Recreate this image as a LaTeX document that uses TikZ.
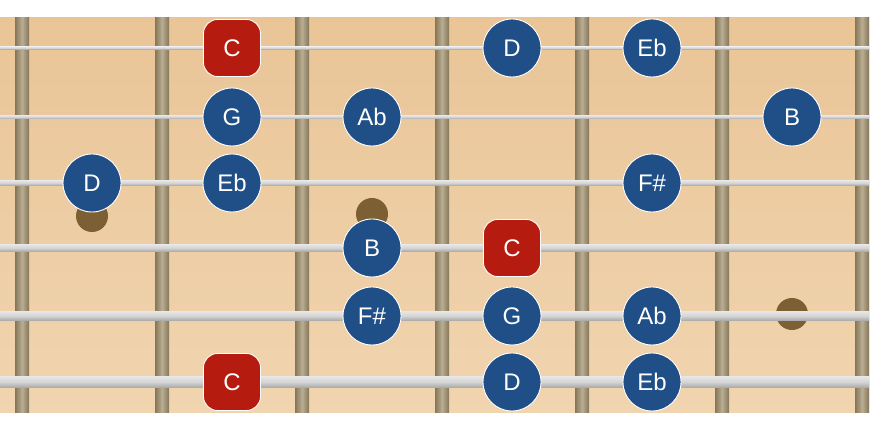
\documentclass[tikz,border=0pt]{standalone}
\usepackage{fontspec}
\setmainfont{Liberation Sans}
\definecolor{woodA}{HTML}{E8C08F}
\definecolor{woodB}{HTML}{F1D5B0}
\definecolor{fretD}{HTML}{857658}
\definecolor{fretL}{HTML}{B9AD92}
\definecolor{strD}{HTML}{A9A9A9}
\definecolor{strL}{HTML}{E6E6E6}
\definecolor{noteblue}{HTML}{1F4F86}
\definecolor{notered}{HTML}{B51B0E}
\definecolor{inlay}{HTML}{7C5F32}
\tikzset{
  note/.style={circle, fill=noteblue, draw=white, line width=0.9pt, minimum size=58pt, inner sep=0pt, text=white, font=\fontsize{24}{24}\selectfont},
  rootnote/.style={rectangle, rounded corners=14pt, fill=notered, draw=white, line width=0.9pt, minimum size=57pt, inner sep=0pt, text=white, font=\fontsize{24}{24}\selectfont},
  inlaydot/.style={circle, fill=inlay, minimum size=32pt, inner sep=0pt},
}
\begin{document}
\begin{tikzpicture}[x=1pt,y=-1pt]
\useasboundingbox (0,0) rectangle (881,427);
\fill[white] (0,0) rectangle (881,427);
% wood
\shade[left color=woodA, right color=woodB, shading angle=0] (0,18) rectangle (869,413);
\shade[top color=woodA!60!woodB, bottom color=woodB, opacity=0.6] (0,18) rectangle (869,413);
% frets
\foreach \x in {22,162,302,442,582,722,862} {
  \shade[left color=fretD, right color=fretD, middle color=fretL] (\x-7,18) rectangle (\x+7,413);
}
% inlays
\node[inlaydot] (dot1) at (92,216) {};
\node[inlaydot] (dot2) at (372,214) {};
\node[inlaydot] (dot3) at (792,314) {};
% strings
\foreach \y/\w in {48/2.5,117/3.5,183/5,248/7,316/9,382/11} {
  \shade[top color=strL, bottom color=strD, middle color=strL!70!strD] (0,\y-\w/2) rectangle (869,\y+\w/2);
}
% notes
\node[rootnote] (s1a) at (232,48) {C};
\node[note] (s1b) at (512,48) {D};
\node[note] (s1c) at (652,48) {Eb};
\node[note] (s2a) at (232,117) {G};
\node[note] (s2b) at (372,117) {Ab};
\node[note] (s2c) at (792,117) {B};
\node[note] (s3a) at (92,183) {D};
\node[note] (s3b) at (232,183) {Eb};
\node[note] (s3c) at (652,183) {F\#};
\node[note] (s4a) at (372,248) {B};
\node[rootnote] (s4b) at (512,248) {C};
\node[note] (s5a) at (372,316) {F\#};
\node[note] (s5b) at (512,316) {G};
\node[note] (s5c) at (652,316) {Ab};
\node[rootnote] (s6a) at (232,382) {C};
\node[note] (s6b) at (512,382) {D};
\node[note] (s6c) at (652,382) {Eb};
\end{tikzpicture}
\end{document}
